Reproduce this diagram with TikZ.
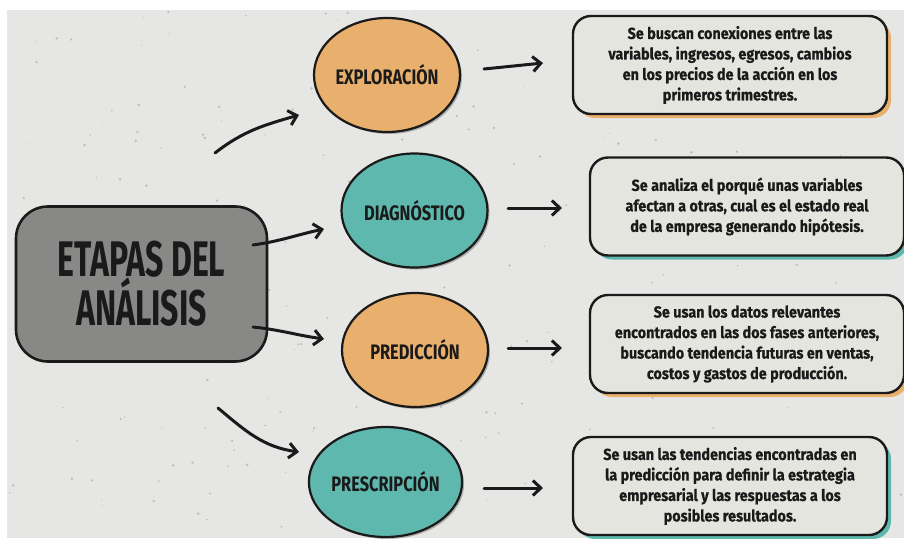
\documentclass[tikz,border=0pt]{standalone}
\usepackage{fontspec}
\usetikzlibrary{shapes.geometric,arrows.meta,shadows}
\newfontfamily\titlefont[FakeStretch=0.64]{Fira Sans}
\newfontfamily\labfont[FakeStretch=0.78]{Fira Sans}
\newfontfamily\boxfont[FakeStretch=0.9,FakeBold=0.6]{Fira Sans}
\definecolor{bg}{HTML}{E6E7E5}
\definecolor{orng}{HTML}{E9B06D}
\definecolor{teal}{HTML}{5EB8AD}
\definecolor{maingray}{HTML}{888987}
\definecolor{boxfill}{HTML}{E5E5DF}
\definecolor{ink}{HTML}{1A1A1A}
\definecolor{speck}{HTML}{9A9B99}
\tikzset{
  mainbox/.style={draw=ink, line width=2.6pt, fill=maingray, rounded corners=32pt,
    minimum width=251pt, minimum height=155pt, inner sep=0pt, align=center,
    font=\titlefont\bfseries\fontsize{50}{49}\selectfont, text=ink},
  stage/.style={ellipse, draw=ink, line width=2.2pt, minimum width=146pt,
    minimum height=114pt, inner sep=0pt, font=\labfont\bfseries\fontsize{21}{22}\selectfont, text=ink,
    drop shadow={shadow xshift=2pt, shadow yshift=-2pt, fill=black, opacity=0.25}},
  infobox/.style={draw=ink, line width=2.4pt, fill=boxfill, rounded corners=18pt,
    minimum width=314pt, minimum height=98pt, inner sep=0pt, align=center,
    font=\boxfont\bfseries\fontsize{16}{20.5}\selectfont, text=ink},
  oshadow/.style={drop shadow={shadow xshift=4pt, shadow yshift=-4pt, fill=orng, opacity=1}},
  tshadow/.style={drop shadow={shadow xshift=4pt, shadow yshift=-4pt, fill=teal, opacity=1}},
  conn/.style={draw=ink, line width=3pt, line cap=round, line join=round,
    -{Straight Barb[length=8pt,width=15pt,line width=3pt]}}
}
\begin{document}
\begin{tikzpicture}[x=1pt,y=-1pt]
\useasboundingbox (0,0) rectangle (904,538);
\fill[white] (0,0) rectangle (904,538);
\fill[bg] (7,10) rectangle (904,538);
\pgfmathsetseed{4711}
\foreach \i in {1,...,220}{
  \pgfmathsetmacro\px{7+rnd*895}
  \pgfmathsetmacro\py{12+rnd*524}
  \pgfmathsetmacro\pr{0.5+rnd*0.9}
  \fill[speck, opacity=0.55] (\px,\py) circle (\pr pt);
}

% main node
\node[mainbox] (main) at (141.5,284) {ETAPAS DEL\\[0pt]ANÁLISIS};

% stages
\node[stage, fill=orng] (expl) at (387,75) {EXPLORACIÓN};
\node[stage, fill=teal] (diag) at (414.5,210.5) {DIAGNÓSTICO};
\node[stage, fill=orng] (pred) at (415,350) {PREDICCIÓN};
\node[stage, fill=teal, minimum height=110pt] (pres) at (385.5,482) {PRESCRIPCIÓN};

% info boxes
\node[infobox, oshadow] (b1) at (730,65) {Se buscan conexiones entre las\\variables, ingresos, egresos, cambios\\en los precios de la acción en los\\primeros trimestres.};
\node[infobox, tshadow] (b2) at (747,206.5) {Se analiza el porqué unas variables\\afectan a otras, cual es el estado real\\de la empresa generando hipótesis.};
\node[infobox, oshadow] (b3) at (747,344) {Se usan los datos relevantes\\encontrados en las dos fases anteriores,\\buscando tendencia futuras en ventas,\\costos y gastos de producción.};
\node[infobox, tshadow] (b4) at (730,486) {Se usan las tendencias encontradas en\\la predicción para definir la estrategia\\empresarial y las respuestas a los\\posibles resultados.};

% connector endpoints
\coordinate (m1) at (215,153);
\coordinate (e1) at (299,115);
\coordinate (m2) at (253,245);
\coordinate (e2) at (324,229);
\coordinate (m3) at (253,327);
\coordinate (e3) at (324,339);
\coordinate (m4) at (218,408);
\coordinate (e4) at (299,452);

\draw[conn] (m1) to[out=38, in=196] (e1);
\draw[conn] (m2) to[out=8, in=192] (e2);
\draw[conn] (m3) to[out=-6, in=172] (e3);
\draw[conn] (m4) to[out=-40, in=172] (e4);

% stage to box arrows
\coordinate (a1) at (484,69);
\coordinate (c1) at (543,63);
\coordinate (a2) at (508,208);
\coordinate (c2) at (562,208);
\coordinate (a3) at (508,348);
\coordinate (c3) at (562,348);
\coordinate (a4) at (484,488);
\coordinate (c4) at (543,488);
\draw[conn] (a1) -- (c1);
\draw[conn] (a2) -- (c2);
\draw[conn] (a3) -- (c3);
\draw[conn] (a4) -- (c4);
\end{tikzpicture}
\end{document}
